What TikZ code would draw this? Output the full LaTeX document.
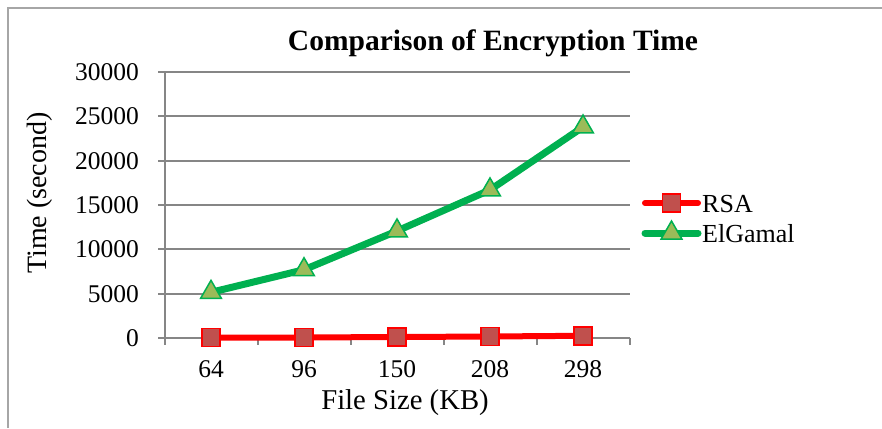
\documentclass[tikz,border=0pt]{standalone}
\usepackage{fontspec}
\setmainfont{Liberation Serif}
\usetikzlibrary{shapes.geometric}
\definecolor{gridgray}{HTML}{868686}
\definecolor{framegray}{HTML}{A6A6A6}
\definecolor{rsared}{HTML}{FF0000}
\definecolor{rsafill}{HTML}{C0504D}
\definecolor{elgreen}{HTML}{00B050}
\definecolor{elfill}{HTML}{9BBB59}
\newcommand{\lblsize}{\fontsize{25.5}{30}\selectfont}

\begin{document}
\begin{tikzpicture}[x=1pt,y=-1pt,
  gridline/.style={gridgray,line width=2pt},
  rsaline/.style={rsared,line width=6pt,line cap=round,line join=round},
  elgline/.style={elgreen,line width=7pt,line cap=round,line join=round},
  sq/.style={draw=rsared,fill=rsafill,line width=1.5pt,minimum size=18pt,inner sep=0pt},
  tri/.style={regular polygon,regular polygon sides=3,draw=elgreen,fill=elfill,
    line width=1.5pt,minimum size=24pt,inner sep=0pt},
  lbl/.style={font=\lblsize,inner sep=0pt}]
  \useasboundingbox (0,0) rectangle (882,428);
  % chart frame
  \draw [framegray,line width=2pt] (8,428) -- (8,8) -- (882,8);
  \node [font=\fontsize{29.5}{34}\selectfont\bfseries,anchor=base] (TITLE) at (493,51)
    {Comparison of Encryption Time};
  % grid and y labels (values in thousands)
  \foreach \v/\lab [count=\i from 0] in {0/0,5/5000,10/10000,15/15000,20/20000,25/25000,30/30000} {
    \coordinate (GL\i) at (158,{338-\v*8.867});
    \coordinate (GR\i) at (630,{338-\v*8.867});
    \draw [gridline] (GL\i) -- (GR\i);
    \node [lbl,anchor=east] (Y\i) at (139,{338-\v*8.867}) {\lab};
  }
  \draw [gridline] (165,72) -- (165,338);
  \foreach \i in {0,...,5}
    \draw [gridline] ({165+93*\i},338) -- ({165+93*\i},345);
  % x labels
  \foreach \s [count=\i from 0] in {64,96,150,208,298}
    \node [lbl,anchor=base] (X\i) at ({211+93*\i},377) {\s};
  \node [font=\fontsize{28.7}{32}\selectfont,anchor=base] (XT) at (405,409) {File Size (KB)};
  \node [font=\fontsize{28}{32}\selectfont,anchor=base,rotate=90] (YT) at (46,193) {Time (second)};
  % series
  \foreach \v [count=\i from 0] in {0.03,0.06,0.11,0.17,0.25}
    \coordinate (R\i) at ({211+93*\i},{338-\v*8.867});
  \foreach \v [count=\i from 0] in {5.15,7.70,12.07,16.70,23.80}
    \coordinate (E\i) at ({211+93*\i},{338-\v*8.867});
  \draw [rsaline] (R0) -- (R1) -- (R2) -- (R3) -- (R4);
  \draw [elgline] (E0) -- (E1) -- (E2) -- (E3) -- (E4);
  \foreach \i in {0,...,4} {
    \node [sq] (RM\i) at (R\i) {};
    \node [tri] (EM\i) at (E\i) {};
  }
  % legend
  \coordinate (RA) at (645,203);
  \coordinate (RB) at (698,203);
  \coordinate (EA) at (645,233);
  \coordinate (EB) at (698,233);
  \draw [rsaline] (RA) -- (RB);
  \node [sq] (RK) at (671.5,203) {};
  \node [lbl,font=\fontsize{26}{30}\selectfont,anchor=base west] (RN) at (702,212) {RSA};
  \draw [elgline] (EA) -- (EB);
  \node [tri] (EK) at (671.5,233) {};
  \node [lbl,font=\fontsize{26}{30}\selectfont,anchor=base west] (EN) at (702,242.5) {ElGamal};
\end{tikzpicture}
\end{document}
